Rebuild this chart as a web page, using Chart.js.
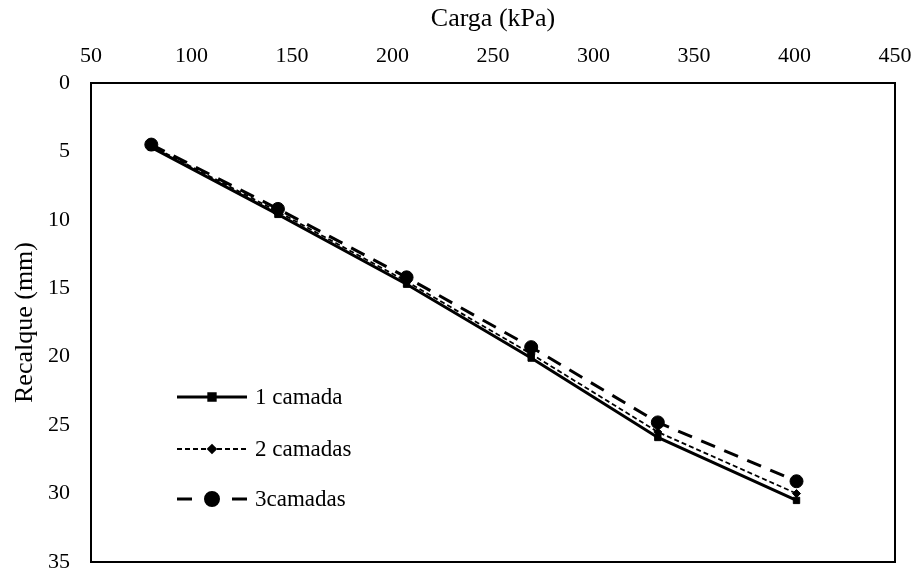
<!DOCTYPE html>
<html>
<head>
<meta charset="utf-8">
<script src="https://cdn.jsdelivr.net/npm/chart.js@4/dist/chart.umd.min.js"></script>
<style>
  html, body { margin: 0; padding: 0; background: #fff; }
  #wrap { width: 916px; height: 572px; }
</style>
</head>
<body>
<div id="wrap"><canvas id="c" width="916" height="572"></canvas></div>
<script>
// Carga aplicada (kPa)
const carga = [80, 143, 207, 269, 332, 401];
// Recalque (mm) por número de camadas
const recalque1 = [4.7, 9.6, 14.7, 20.1, 25.9, 30.5];
const recalque2 = [4.6, 9.4, 14.5, 19.8, 25.5, 30.0];
const recalque3 = [4.5, 9.2, 14.2, 19.3, 24.8, 29.1];
const seriesNames = ['1 camada', '2 camadas', '3camadas'];
const xTicks = [50, 100, 150, 200, 250, 300, 350, 400, 450];
const yTicks = [0, 5, 10, 15, 20, 25, 30, 35];

const FONT = '"Liberation Serif", "Times New Roman", serif';

function pts(ys) { return carga.map((x, i) => ({ x: x, y: ys[i] })); }

// frame around the plotting area
const framePlugin = {
  id: 'frame',
  afterDatasetsDraw(chart) {
    const a = chart.chartArea, ctx = chart.ctx;
    ctx.save();
    ctx.strokeStyle = '#000';
    ctx.lineWidth = 2;
    ctx.strokeRect(a.left, a.top, a.right - a.left, a.bottom - a.top);
    ctx.restore();
  }
};

// legend drawn inside the plot, lower left
const innerLegend = {
  id: 'innerLegend',
  afterDraw(chart) {
    const ctx = chart.ctx;
    const x0 = 177, x1 = 247, tx = 255;
    const rows = [397, 449, 499];
    ctx.save();
    chart.data.datasets.forEach((ds, i) => {
      const y = rows[i];
      ctx.strokeStyle = '#000';
      ctx.lineWidth = ds.borderWidth;
      ctx.setLineDash(ds.legendDash || ds.borderDash || []);
      ctx.beginPath();
      ctx.moveTo(x0, y);
      ctx.lineTo(x1, y);
      ctx.stroke();
      ctx.setLineDash([]);
      Chart.helpers.drawPoint(ctx, {
        pointStyle: ds.pointStyle,
        radius: ds.pointRadius,
        rotation: 0,
        borderWidth: 1
      }, (x0 + x1) / 2, y);
      ctx.fillStyle = '#000';
      ctx.font = '23px ' + FONT;
      ctx.textBaseline = 'middle';
      ctx.textAlign = 'left';
      ctx.fillText(ds.label, tx, y + 1);
    });
    ctx.restore();
  }
};

new Chart(document.getElementById('c'), {
  type: 'scatter',
  data: {
    datasets: [
      {
        label: seriesNames[0],
        data: pts(recalque1),
        showLine: true,
        borderColor: '#000',
        backgroundColor: '#000',
        borderWidth: 3,
        pointStyle: 'rect',
        pointRadius: 4.5,
        pointBorderWidth: 1
      },
      {
        label: seriesNames[1],
        data: pts(recalque2),
        showLine: true,
        borderColor: '#000',
        backgroundColor: '#000',
        borderWidth: 1.8,
        borderDash: [5, 3],
        pointStyle: 'rectRot',
        pointRadius: 4,
        pointBorderWidth: 1
      },
      {
        label: seriesNames[2],
        data: pts(recalque3),
        showLine: true,
        borderColor: '#000',
        backgroundColor: '#000',
        borderWidth: 3,
        borderDash: [15, 10],
        legendDash: [15, 40],
        pointStyle: 'circle',
        pointRadius: 6.5,
        pointBorderWidth: 1
      }
    ]
  },
  options: {
    responsive: false,
    animation: false,
    layout: { padding: { left: 0, right: 21, top: 0, bottom: 10 } },
    plugins: {
      legend: { display: false },
      tooltip: { enabled: false }
    },
    scales: {
      x: {
        type: 'linear',
        position: 'top',
        min: 50,
        max: 450,
        afterBuildTicks(axis) { axis.ticks = xTicks.map(v => ({ value: v })); },
        afterFit(axis) {
          axis.height = 83;
          axis.paddingLeft = 0; axis.paddingRight = 0;
          axis.paddingTop = 0; axis.paddingBottom = 0;
        },
        grid: { display: false, drawTicks: false },
        border: { display: false },
        ticks: {
          color: '#000',
          font: { family: FONT, size: 22 },
          padding: 14,
          maxRotation: 0
        },
        title: {
          display: true,
          text: 'Carga (kPa)',
          color: '#000',
          font: { family: FONT, size: 26 },
          padding: { top: 4, bottom: 0 }
        }
      },
      y: {
        type: 'linear',
        reverse: true,
        min: 0,
        max: 35,
        afterBuildTicks(axis) { axis.ticks = yTicks.map(v => ({ value: v })); },
        afterFit(axis) {
          axis.width = 91;
          axis.paddingLeft = 0; axis.paddingRight = 0;
          axis.paddingTop = 0; axis.paddingBottom = 0;
        },
        grid: { display: false, drawTicks: false },
        border: { display: false },
        ticks: {
          color: '#000',
          font: { family: FONT, size: 22 },
          padding: 21
        },
        title: {
          display: true,
          text: 'Recalque (mm)',
          color: '#000',
          font: { family: FONT, size: 26 },
          padding: { top: 10, bottom: 0 }
        }
      }
    }
  },
  plugins: [framePlugin, innerLegend]
});
</script>
</body>
</html>
